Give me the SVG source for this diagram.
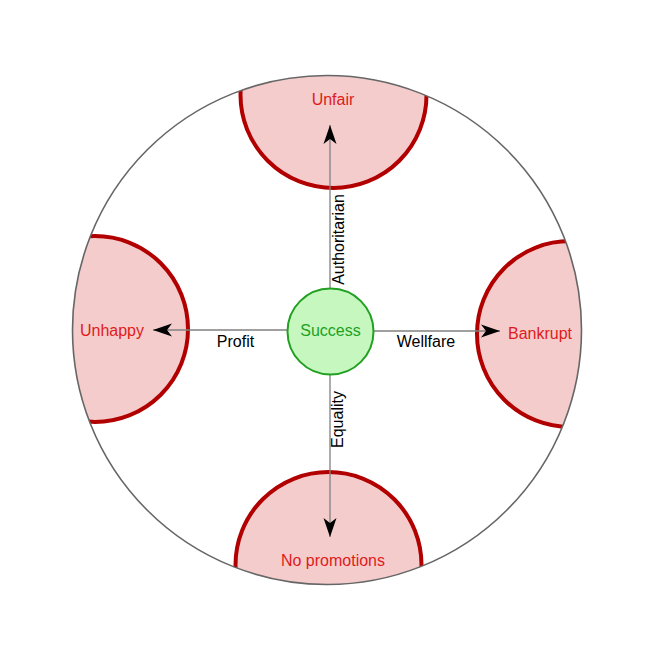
<svg xmlns="http://www.w3.org/2000/svg" width="665" height="660" viewBox="0 0 665 660">
  <style>
    .lbl { font-family: "Liberation Sans", Arial, sans-serif; font-size: 16px; text-anchor: middle; }
    .red { fill: #e01b1b; }
    .blk { fill: #000000; }
    .zone { fill: #f4cccc; stroke: #b20000; stroke-width: 4; }
    .edge { fill: none; stroke: #808080; stroke-width: 1.3; }
  </style>
  <defs>
    <clipPath id="bigClip">
      <circle cx="327" cy="330" r="254.5"/>
    </clipPath>
    <marker id="arrow" markerUnits="userSpaceOnUse" markerWidth="22" markerHeight="16" viewBox="-21 -8 22 16" refX="0" refY="0" orient="auto">
      <path d="M0,0 L-19,-6.5 L-14,0 L-19,6.5 Z" fill="#000000"/>
    </marker>
  </defs>
  <rect width="665" height="660" fill="#ffffff"/>

  <g id="outer">
    <circle cx="327" cy="330" r="254.5" fill="#ffffff"/>
  </g>

  <g id="zones" clip-path="url(#bigClip)">
    <g id="unfair-zone"><circle class="zone" cx="333.5" cy="95" r="93"/></g>
    <g id="unhappy-zone"><circle class="zone" cx="95" cy="329" r="93"/></g>
    <g id="bankrupt-zone"><circle class="zone" cx="570" cy="334" r="93"/></g>
    <g id="nopromo-zone"><circle class="zone" cx="328.5" cy="565" r="93"/></g>
  </g>

  <g id="outer-stroke">
    <circle cx="327" cy="330" r="254.5" fill="none" stroke="#666666" stroke-width="1.6"/>
  </g>

  <g id="connectors">
    <path class="edge" d="M330,288 L330,125" marker-end="url(#arrow)"/>
    <path class="edge" d="M287,330 L153,330" marker-end="url(#arrow)"/>
    <path class="edge" d="M374,331 L500,331" marker-end="url(#arrow)"/>
    <path class="edge" d="M330,375 L330,537" marker-end="url(#arrow)"/>
    <text class="lbl blk" transform="translate(344,239.5) rotate(-90)">Authoritarian</text>
    <text class="lbl blk" x="235.5" y="347">Profit</text>
    <text class="lbl blk" x="426" y="347">Wellfare</text>
    <text class="lbl blk" transform="translate(343,419.5) rotate(-90)">Equality</text>
  </g>

  <g id="success">
    <circle cx="330.5" cy="331.5" r="43" fill="#c6f7bf" stroke="#22a022" stroke-width="2"/>
    <text class="lbl" x="330.5" y="336" fill="#22a022">Success</text>
  </g>

  <g id="unfair"><text class="lbl red" x="333" y="105">Unfair</text></g>
  <g id="unhappy"><text class="lbl red" x="112" y="336">Unhappy</text></g>
  <g id="bankrupt"><text class="lbl red" x="540" y="339">Bankrupt</text></g>
  <g id="nopromo"><text class="lbl red" x="333" y="566">No promotions</text></g>
</svg>
